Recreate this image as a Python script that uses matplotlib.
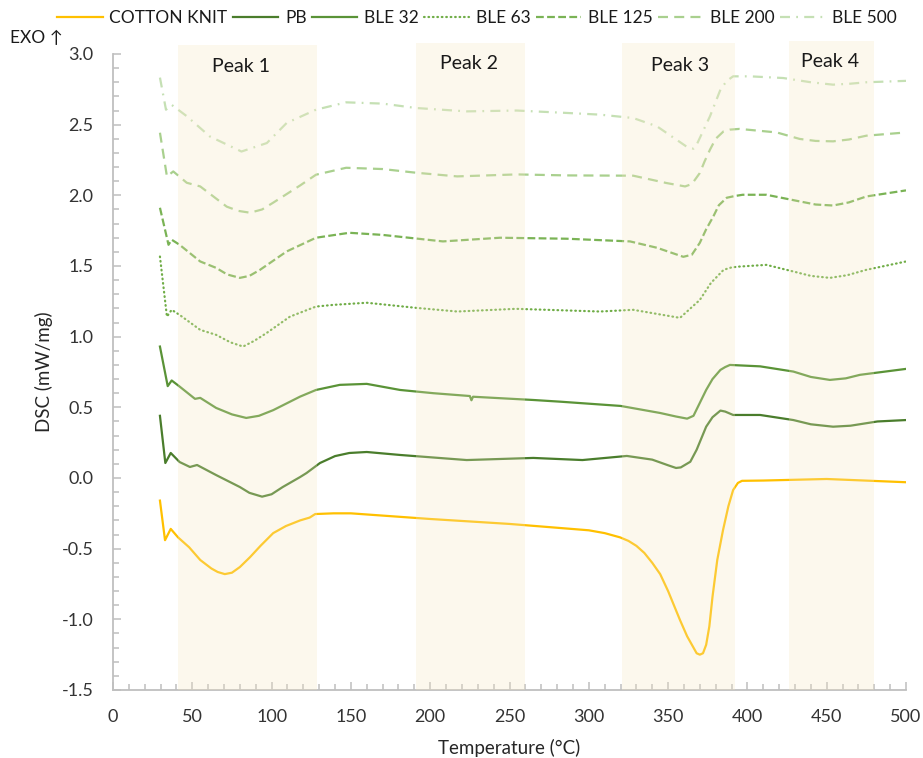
import matplotlib
matplotlib.use("Agg")
import matplotlib.pyplot as plt
from matplotlib.ticker import MultipleLocator

plt.rcParams['font.family'] = ['Lato', 'DejaVu Sans']

# DSC-Kurven (Temperatur in °C, DSC in mW/mg)
t_cotton = [29.6, 32.8, 36.4, 41, 48, 55, 62, 66, 70.5, 75, 80, 86.4, 93, 101, 109, 118, 124,
            127.5, 139, 150, 200, 250, 300, 310, 319.7, 325, 330, 335, 340, 345, 350, 357.5, 362,
            366, 368, 370, 372, 374, 376, 378, 381, 384.6, 388, 391, 394, 396.6, 410, 450, 500]
y_cotton = [-0.16, -0.44, -0.36, -0.42, -0.49, -0.58, -0.64, -0.665, -0.68, -0.67, -0.63, -0.56,
            -0.48, -0.39, -0.34, -0.30, -0.28, -0.255, -0.25, -0.25, -0.29, -0.325, -0.37, -0.39,
            -0.42, -0.445, -0.48, -0.53, -0.60, -0.68, -0.80, -1.005, -1.12, -1.20, -1.24, -1.25,
            -1.24, -1.18, -1.05, -0.84, -0.58, -0.37, -0.20, -0.085, -0.035, -0.02, -0.018,
            -0.007, -0.03]

t_pb = [29.6, 33, 36.4, 42, 48.5, 53, 65, 80, 86, 94, 100, 107, 118, 122, 130.5, 140, 149, 160,
        181, 223, 265, 296, 324, 340, 350, 355, 358, 364, 368, 374, 378, 383, 386, 391, 408, 429,
        440, 454, 465, 482, 500]
y_pb = [0.44, 0.106, 0.177, 0.113, 0.078, 0.092, 0.021, -0.064, -0.105, -0.132, -0.115, -0.064,
        0.007, 0.035, 0.106, 0.155, 0.177, 0.184, 0.163, 0.127, 0.142, 0.127, 0.156, 0.13, 0.09,
        0.071, 0.075, 0.115, 0.2, 0.363, 0.43, 0.477, 0.47, 0.446, 0.446, 0.41, 0.38, 0.363,
        0.37, 0.40, 0.41]

t_ble32 = [29.6, 34.5, 37, 42, 51.7, 55, 65, 75, 84, 92, 101, 118, 128, 143, 160, 181, 202, 225,
           226, 227, 265, 282, 320, 345, 355, 362, 366, 374, 378, 383, 386, 389, 408, 429, 440,
           452, 462, 471, 500]
y_ble32 = [0.93, 0.65, 0.69, 0.647, 0.56, 0.567, 0.496, 0.45, 0.425, 0.44, 0.48, 0.576, 0.623,
           0.659, 0.666, 0.623, 0.60, 0.58, 0.55, 0.575, 0.552, 0.54, 0.51, 0.46, 0.435, 0.42,
           0.44, 0.623, 0.70, 0.765, 0.785, 0.80, 0.79, 0.753, 0.715, 0.694, 0.705, 0.73, 0.772]

t_ble63 = [29.6, 34, 37, 42, 55, 65, 74, 82, 89, 97, 111.6, 128, 139, 160, 191, 217, 254, 307,
           328, 357.5, 370, 377, 385, 390, 395, 412, 429, 440, 452, 463, 475, 500]
y_ble63 = [1.567, 1.142, 1.19, 1.154, 1.048, 1.013, 0.96, 0.93, 0.97, 1.027, 1.142, 1.213, 1.225,
           1.24, 1.204, 1.178, 1.197, 1.178, 1.19, 1.133, 1.26, 1.38, 1.473, 1.49, 1.496, 1.508,
           1.461, 1.43, 1.416, 1.435, 1.473, 1.532]

t_ble125 = [29.6, 35, 37, 42, 55, 65, 72, 80, 86, 92.7, 109.5, 128, 149, 170, 208, 244, 286,
            326, 343, 359.6, 365, 370, 374, 378.5, 382, 387, 392, 397, 412, 433, 443, 454, 464,
            475, 500]
y_ble125 = [1.912, 1.65, 1.686, 1.65, 1.532, 1.487, 1.44, 1.416, 1.43, 1.473, 1.603, 1.70,
            1.735, 1.72, 1.674, 1.70, 1.693, 1.674, 1.629, 1.565, 1.58, 1.664, 1.76, 1.85, 1.93,
            1.983, 1.995, 2.004, 2.004, 1.957, 1.935, 1.928, 1.95, 1.992, 2.035]

t_ble200 = [29.6, 34, 38, 46.5, 55, 71.7, 79, 86.4, 94, 101, 118, 128, 147, 170, 191, 217,
            254.5, 286, 328, 349, 360.7, 365, 370, 373, 376.4, 380, 385, 389, 395, 418.5, 433,
            443, 454, 464, 475, 500]
y_ble200 = [2.443, 2.134, 2.169, 2.089, 2.063, 1.92, 1.89, 1.877, 1.90, 1.948, 2.07, 2.146,
            2.195, 2.186, 2.16, 2.134, 2.148, 2.141, 2.139, 2.087, 2.063, 2.08, 2.158, 2.24,
            2.323, 2.40, 2.453, 2.465, 2.47, 2.445, 2.399, 2.385, 2.382, 2.395, 2.422, 2.445]

t_ble500 = [29.6, 33.4, 37, 46.5, 61, 81, 97, 109.5, 128, 147, 170, 191, 223, 254.5, 286,
            307, 328, 343, 362, 366, 368, 376.4, 383, 387, 391, 401.6, 422.6, 440, 454, 465,
            475, 500]
y_ble500 = [2.833, 2.606, 2.64, 2.56, 2.417, 2.31, 2.37, 2.512, 2.606, 2.658, 2.649, 2.618,
            2.594, 2.60, 2.583, 2.571, 2.547, 2.488, 2.342, 2.33, 2.358, 2.559, 2.748, 2.81,
            2.842, 2.842, 2.83, 2.80, 2.783, 2.79, 2.80, 2.81]

# markierte Bereiche
peak_names = ['Peak 1', 'Peak 2', 'Peak 3', 'Peak 4']
peak_start = [41, 191, 321, 426]
peak_end = [128.5, 260, 392, 480]
peak_label_x = [81, 224.5, 357.5, 452]
peak_label_y = [2.91, 2.93, 2.92, 2.95]
peak_top = [1.014, 1.018, 1.018, 1.02]

fig = plt.figure(figsize=(9.23, 7.58), dpi=100)
ax = fig.add_axes([113/923, 1 - 690/758, 793/923, 636/758])

lw = 1.6
ax.plot(t_cotton, y_cotton, color='#FFC000', lw=lw, label='COTTON KNIT')
ax.plot(t_pb, y_pb, color='#4A7D2C', lw=lw, label='PB')
ax.plot(t_ble32, y_ble32, color='#5A9337', lw=lw, label='BLE 32')
ax.plot(t_ble63, y_ble63, color='#70AD47', lw=lw, ls=(0, (0.3, 1.7)),
        dash_capstyle='round', label='BLE 63')
ax.plot(t_ble125, y_ble125, color='#7AB355', lw=lw, ls=(0, (3.5, 1.5)), label='BLE 125')
ax.plot(t_ble200, y_ble200, color='#A9D08E', lw=lw, ls=(0, (4.5, 2.8)), label='BLE 200')
ax.plot(t_ble500, y_ble500, color='#C5E0B4', lw=lw, ls=(0, (4.5, 2.8, 0.8, 2.8)),
        label='BLE 500')

for x0, x1, top in zip(peak_start, peak_end, peak_top):
    ax.axvspan(x0, x1, ymin=0, ymax=top, color='#F4E6C0', alpha=0.27, lw=0,
               zorder=3, clip_on=False)
for name, px, py in zip(peak_names, peak_label_x, peak_label_y):
    ax.text(px, py, name, ha='center', va='center', fontsize=14, color='#1a1a1a', zorder=4)

ax.set_xlim(0, 500)
ax.set_ylim(-1.5, 3.0)
ax.xaxis.set_major_locator(MultipleLocator(50))
ax.xaxis.set_minor_locator(MultipleLocator(10))
ax.yaxis.set_major_locator(MultipleLocator(0.5))
ax.yaxis.set_minor_locator(MultipleLocator(0.1))
ax.yaxis.set_major_formatter(lambda v, p: f'{v:.1f}')

for s in ['top', 'right']:
    ax.spines[s].set_visible(False)
for s in ['left', 'bottom']:
    ax.spines[s].set_color('#BFBFBF')
    ax.spines[s].set_linewidth(1.3)

ax.tick_params(which='major', direction='in', length=6, width=1.1, color='#BFBFBF',
               labelsize=13, labelcolor='#333333')
ax.tick_params(which='minor', direction='in', length=4, width=1.1, color='#BFBFBF')
ax.tick_params(axis='y', which='major', pad=14)
ax.tick_params(axis='x', which='major', pad=14)

ax.set_ylabel('DSC (mW/mg)', fontsize=13.5, color='#262626')
ax.yaxis.set_label_coords(-0.076, 0.5)
ax.set_xlabel('Temperature (°C)', fontsize=13.5, color='#262626')
ax.xaxis.set_label_coords(0.5, -0.077)

fig.text(10/923, 1 - 38/758, 'EXO ↑', fontsize=12.5, va='center', ha='left', color='#1a1a1a')

fig.legend(loc='center', bbox_to_anchor=(477/923, 1 - 18/758), ncol=7, frameon=False,
           fontsize=12.5, handlelength=2.6, handletextpad=0.4, columnspacing=0.3,
           borderaxespad=0, labelcolor='#1a1a1a')

fig.savefig('out.png', dpi=100)
